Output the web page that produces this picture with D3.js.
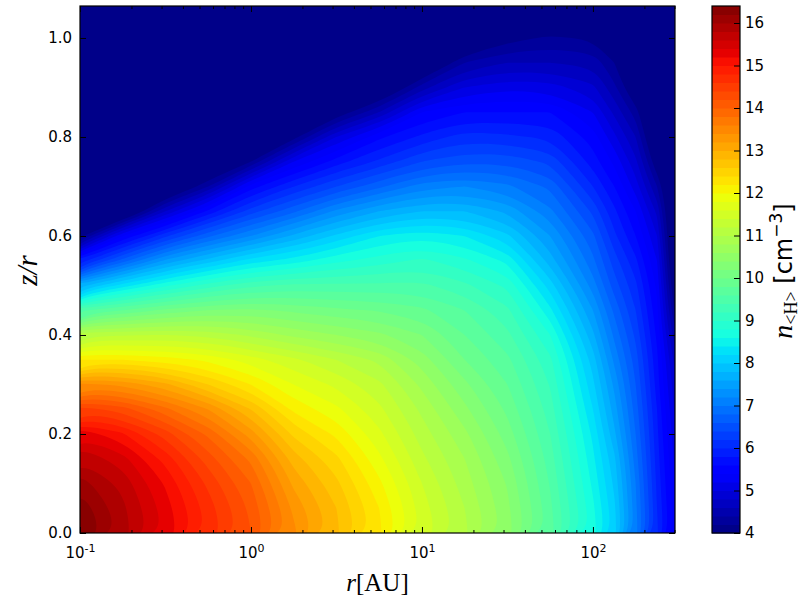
<!DOCTYPE html>
<html><head><meta charset="utf-8">
<script src="https://cdn.jsdelivr.net/npm/d3@7"></script>
<style>html,body{margin:0;padding:0;background:#fff}svg{display:block}text{fill:#000}</style>
</head><body><svg id="c" width="800" height="600"></svg>
<script>
// log10(r/AU) of each column of the density table
const logR = [-1,-0.75,-0.5,-0.25,0,0.25,0.5,0.75,1,1.25,1.5,1.75,2,2.125,2.25,2.375,2.48];
// z/r of each row
const zOverR = [0,0.05,0.1,0.15,0.2,0.25,0.3,0.35,0.4,0.45,0.5,0.55,0.6,0.65,0.7,0.75,0.8,0.85,0.9,0.95,1,1.05,1.1];
// log10 n<H> read per column, bottom to top (the colour scale floors at 4)
const col00 = [16.47,16.35,16.1,15.78,15.35,14.5,13.45,12.2,11.15,9.55,7.7,5.85,4.1,3.6,3.6,3.6,3.6,3.6,3.6,3.6,3.6,3.6,3.6];
const col01 = [15.9,15.85,15.73,15.48,15.03,14.3,13.35,12.2,11.17,9.8,8.3,6.7,5.4,3.6,3.6,3.6,3.6,3.6,3.6,3.6,3.6,3.6,3.6];
const col02 = [15.35,15.3,15.17,14.92,14.5,13.86,13.05,12.1,11.2,10.05,8.75,7.45,6.15,4.8,3.6,3.6,3.6,3.6,3.6,3.6,3.6,3.6,3.6];
const col03 = [14.75,14.7,14.55,14.3,13.95,13.4,12.6,11.95,11.15,10.2,9.1,7.9,6.75,5.65,4.4,3.6,3.6,3.6,3.6,3.6,3.6,3.6,3.6];
const col04 = [14.2,14.15,14.0,13.75,13.3,12.8,12.2,11.7,10.95,10.25,9.35,8.3,7.2,6.3,5.5,4.2,3.6,3.6,3.6,3.6,3.6,3.6,3.6];
const col05 = [13.45,13.35,13.15,12.9,12.55,12.15,11.8,11.45,10.75,10.15,9.45,8.5,7.65,6.75,6.0,5.2,4.1,3.6,3.6,3.6,3.6,3.6,3.6];
const col06 = [12.85,12.8,12.65,12.45,12.15,11.85,11.55,11.2,10.6,10.05,9.45,8.75,8.05,7.25,6.4,5.7,5.0,4.0,3.6,3.6,3.6,3.6,3.6];
const col07 = [12.25,12.2,12.05,11.85,11.65,11.45,11.25,10.95,10.45,9.98,9.45,8.9,8.4,7.6,6.75,6.05,5.55,4.6,3.7,3.6,3.6,3.6,3.6];
const col08 = [11.55,11.5,11.4,11.25,11.1,10.95,10.75,10.5,10.2,9.85,9.45,9.05,8.55,7.8,7.1,6.4,5.85,5.4,4.5,3.7,3.6,3.6,3.6];
const col09 = [11.05,11.0,10.9,10.8,10.65,10.45,10.25,10.0,9.8,9.6,9.25,8.85,8.4,7.8,7.2,6.55,6.1,5.6,5.0,4.4,3.7,3.6,3.6];
const col10 = [10.5,10.45,10.38,10.25,10.1,9.95,9.8,9.65,9.45,9.25,8.95,8.55,8.05,7.55,7.05,6.55,6.05,5.6,5.15,4.6,4.1,3.6,3.6];
const col11 = [9.7,9.65,9.58,9.5,9.4,9.3,9.18,9.05,8.8,8.45,8.1,7.7,7.4,7.05,6.75,6.35,5.95,5.6,5.1,4.6,4.25,3.7,3.6];
const col12 = [8.7,8.65,8.55,8.45,8.35,8.2,8.05,7.9,7.65,7.4,7.1,6.85,6.65,6.35,6.0,5.7,5.5,5.2,4.85,4.55,4.15,3.6,3.6];
const col13 = [8.1,8.05,7.95,7.85,7.65,7.5,7.35,7.15,6.95,6.75,6.5,6.3,6.05,5.85,5.6,5.35,5.05,4.75,4.45,4.2,3.7,3.6,3.6];
const col14 = [7.1,7.05,7.0,6.9,6.8,6.7,6.6,6.5,6.35,6.2,6.05,5.85,5.6,5.4,5.1,4.85,4.6,4.3,3.9,3.6,3.6,3.6,3.6];
const col15 = [6.05,6.0,5.95,5.9,5.85,5.8,5.7,5.65,5.55,5.45,5.35,5.2,5.0,4.75,4.4,4.0,3.7,3.6,3.6,3.6,3.6,3.6,3.6];
const col16 = [5.3,5.27,5.2,5.15,5.05,4.95,4.85,4.72,4.45,4.15,3.9,3.7,3.6,3.6,3.6,3.6,3.6,3.6,3.6,3.6,3.6,3.6,3.6];
const columns = [col00,col01,col02,col03,col04,col05,col06,col07,col08,col09,col10,col11,col12,col13,col14,col15,col16];

const levels = d3.range(62).map(k => +(4 + 0.2 * k).toFixed(1));
const xTicks = [0.1,1,10,100];
const xMinor = [0.2,0.3,0.4,0.5,0.6,0.7,0.8,0.9,2,3,4,5,6,7,8,9,20,30,40,50,60,70,80,90,200,300];
const yTicks = [0,0.2,0.4,0.6,0.8,1.0];
const cbTicks = d3.range(4,17);

const jetR = d3.scaleLinear([0,.35,.66,.89,1],[0,0,1,1,.5]);
const jetG = d3.scaleLinear([0,.125,.375,.64,.91,1],[0,0,1,1,0,0]);
const jetB = d3.scaleLinear([0,.11,.34,.65,1],[.5,1,1,0,0]);
const vmin = 4, vmax = 16.4, step = 0.2;
const jet = v => { const t=(v-vmin)/(vmax-vmin);
  return d3.rgb(jetR(t)*255, jetG(t)*255, jetB(t)*255).formatRgb(); };

const L=80,R=675,T=6,B=533, CL=712,CR=740;
const font='"DejaVu Sans"', fs=15;
const svg=d3.select('#c');
const x=d3.scaleLog([0.1,Math.pow(10,2.48)],[L,R]);
const y=d3.scaleLinear([0,1.0646],[B,T]);
const cy=d3.scaleLinear([4,16.4],[B,T]);

svg.append('clipPath').attr('id','plot').append('rect').attr('x',L).attr('y',T).attr('width',R-L).attr('height',B-T);

const n=logR.length, m=zOverR.length;
const flat=[]; for(let j=0;j<m;j++) for(let i=0;i<n;i++) flat.push(columns[i][j]);
const iToLog=d3.scaleLinear(d3.range(n),logR);
const jToZ=d3.scaleLinear(d3.range(m),zOverR);
const px=c=>x(Math.pow(10,iToLog(c-0.5)));
const py=c=>y(jToZ(c-0.5));
const line=d3.line().x(p=>px(p[0])).y(p=>py(p[1])).curve(d3.curveBasisClosed);

const plot=svg.append('g').attr('clip-path','url(#plot)');
plot.append('rect').attr('x',L).attr('y',T).attr('width',R-L).attr('height',B-T).attr('fill',jet(vmin+step/2));
const contours=d3.contours().size([n,m]).thresholds(levels.slice(1))(flat);
plot.selectAll('path').data(contours).join('path')
  .attr('fill',d=>jet(d.value+step/2))
  .attr('fill-rule','evenodd')
  .attr('d',d=>d.coordinates.map(poly=>poly.map(ring=>line(ring.slice(0,-1))).join('')).join(''));

function styleAxis(g){g.select('.domain').remove();g.selectAll('line').attr('stroke','#000').attr('stroke-width',1);
  g.selectAll('text').attr('font-family',font).attr('font-size',fs).attr('fill','#000');}

const gx=svg.append('g').attr('transform',`translate(0,${B})`)
  .call(d3.axisBottom(x).tickValues(xTicks).tickSizeInner(-6).tickSizeOuter(0).tickPadding(14).tickFormat(()=>''));
styleAxis(gx);
gx.selectAll('.tick text').each(function(d){
  const t=d3.select(this); t.text('10');
  t.append('tspan').attr('dy',-6).attr('font-size',11).text(d3.format('d')(Math.round(Math.log10(d))).replace('\u2212','-'));
});
const gxm=svg.append('g').attr('transform',`translate(0,${B})`)
  .call(d3.axisBottom(x).tickValues(xMinor).tickSizeInner(-3).tickSizeOuter(0).tickFormat(()=>''));
styleAxis(gxm);
const gxt=svg.append('g').attr('transform',`translate(0,${T})`)
  .call(d3.axisTop(x).tickValues(xTicks).tickSizeInner(-6).tickSizeOuter(0).tickFormat(()=>''));
styleAxis(gxt);
const gxtm=svg.append('g').attr('transform',`translate(0,${T})`)
  .call(d3.axisTop(x).tickValues(xMinor).tickSizeInner(-3).tickSizeOuter(0).tickFormat(()=>''));
styleAxis(gxtm);

const gy=svg.append('g').attr('transform',`translate(${L},0)`)
  .call(d3.axisLeft(y).tickValues(yTicks).tickSizeInner(-6).tickSizeOuter(0).tickPadding(8).tickFormat(d3.format('.1f')));
styleAxis(gy);
const gyr=svg.append('g').attr('transform',`translate(${R},0)`)
  .call(d3.axisRight(y).tickValues(yTicks).tickSizeInner(-6).tickSizeOuter(0).tickFormat(()=>''));
styleAxis(gyr);

svg.append('rect').attr('x',L).attr('y',T).attr('width',R-L).attr('height',B-T).attr('fill','none').attr('stroke','#000').attr('stroke-width',1.2);

svg.append('g').selectAll('rect').data(levels).join('rect')
  .attr('x',CL).attr('width',CR-CL)
  .attr('y',d=>cy(d+step)).attr('height',d=>cy(d)-cy(d+step)+0.5)
  .attr('fill',d=>jet(d+step/2));
const gc=svg.append('g').attr('transform',`translate(${CR},0)`)
  .call(d3.axisRight(cy).tickValues(cbTicks).tickSizeInner(-6).tickSizeOuter(0).tickPadding(5).tickFormat(d3.format('d')));
styleAxis(gc);
svg.append('rect').attr('x',CL).attr('y',T).attr('width',CR-CL).attr('height',B-T).attr('fill','none').attr('stroke','#000').attr('stroke-width',1.2);

const serif='"Liberation Serif"';
const xl=svg.append('text').attr('x',(L+R)/2).attr('y',591).attr('text-anchor','middle').attr('font-family',serif).attr('font-size',25);
xl.append('tspan').attr('font-style','italic').text('r');
xl.append('tspan').text('[AU]');
svg.append('text').attr('transform',`translate(37,${(T+B)/2+1}) rotate(-90)`).attr('text-anchor','middle').attr('font-family',serif).attr('font-size',29).attr('font-style','italic').text('z/r');
const cl=svg.append('text').attr('transform',`translate(792,271) rotate(-90)`).attr('text-anchor','middle').attr('font-family',serif).attr('font-size',28);
cl.append('tspan').attr('font-style','italic').text('n');
cl.append('tspan').attr('font-size',18).attr('dy',5).text('<H>');
cl.append('tspan').attr('dy',-5).attr('font-family',font).attr('font-size',24).text(' [cm');
cl.append('tspan').attr('dy',-10).attr('font-family',font).attr('font-size',17).text('\u22123');
cl.append('tspan').attr('dy',10).attr('font-family',font).attr('font-size',24).text(']');
</script></body></html>
